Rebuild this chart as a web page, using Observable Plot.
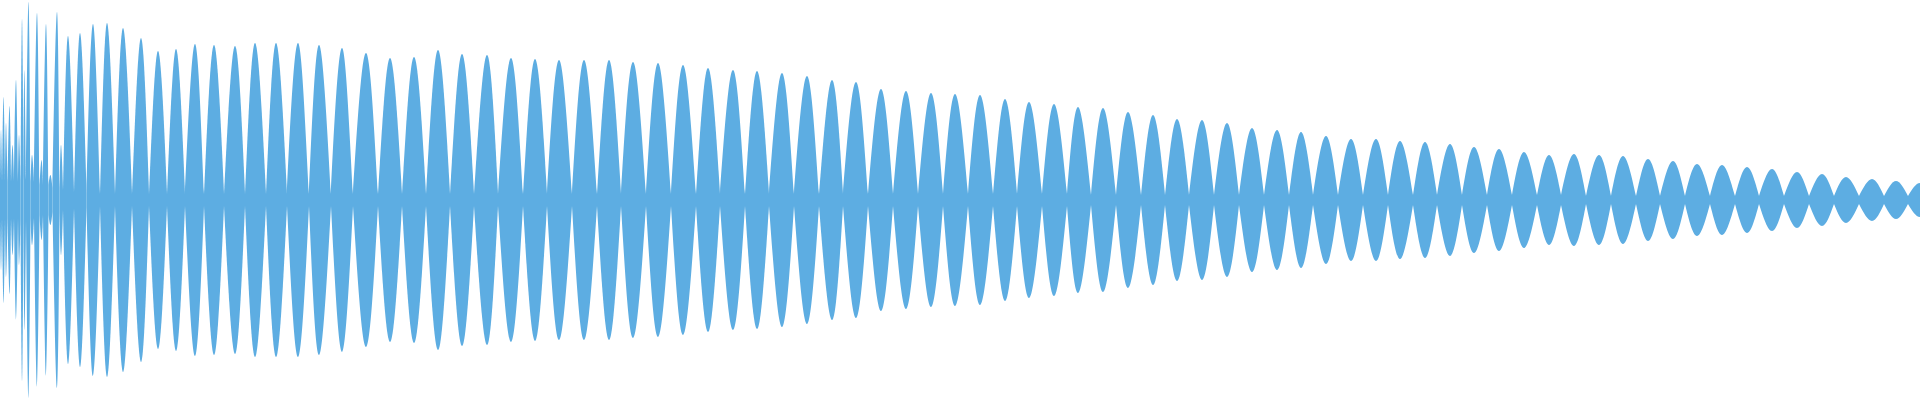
<!DOCTYPE html>
<html><head><meta charset="utf-8">
<script src="https://cdn.jsdelivr.net/npm/d3@7"></script>
<script src="https://cdn.jsdelivr.net/npm/@observablehq/plot@0.6"></script>
<style>body{margin:0;background:#fff}</style>
</head><body><div id="chart"></div>
<script>
// Envelope of the waveform: each lobe runs from one node to the next, peaking in between.
const nodeX = [0, 2, 5, 7.5, 11, 14, 18, 20.5, 23.5, 26, 30.5, 34, 39.5, 43, 48.5, 52.5, 59.5, 63, 74, 86.5, 100, 115, 132,
  149, 167, 185, 204, 224, 245, 266, 287, 309, 331, 353, 378, 402, 426, 450, 474, 498, 523, 547, 572,
  597, 621, 646, 671, 696, 720, 745, 769, 794, 819, 843, 868, 893, 918, 943, 968, 993, 1017, 1042, 1067,
  1091, 1116, 1141, 1165, 1189, 1214, 1239, 1264, 1289, 1313, 1338, 1363, 1388, 1413, 1437, 1462, 1487, 1512, 1537, 1561,
  1586, 1611, 1636, 1660, 1685, 1710, 1735, 1759, 1784, 1809, 1834, 1859, 1884, 1908, 1933];
const nodeAmp = [20, 18, 18, 18, 18, 18, 18, 20, 20, 20, 18, 18, 15, 15, 15, 12, 12, 10, 8, 7, 6, 6, 6,
  6, 6, 6, 6, 6, 6, 6, 6, 6, 6, 6, 6, 6, 6, 6, 6, 6, 6, 6, 6,
  6, 6, 6, 6, 6, 6, 6, 6, 6, 6, 6, 6, 6, 6, 6, 6, 6, 6, 6, 6,
  5, 5, 5, 5, 5, 5, 5, 5, 5, 5, 5, 5, 5, 5, 5, 5, 5, 5, 5, 5,
  4, 4, 4, 4, 4, 4, 4, 4, 4, 4, 4, 4, 4, 4, 4];
const peakX = [1, 3.5, 6, 9.5, 12.5, 16, 19, 22, 24.5, 28.5, 32, 37, 41.5, 46, 50.5, 57, 61, 68, 80, 93, 107, 123,
  141, 158, 176, 195, 214, 235, 255, 276, 298, 319, 342, 366, 390, 414, 438, 462, 487, 511, 535, 559,
  584, 609, 633, 658, 683, 708, 733, 757, 782, 807, 832, 856, 881, 906, 931, 955, 980, 1005, 1029, 1054,
  1078, 1103, 1128, 1153, 1177, 1202, 1227, 1252, 1277, 1301, 1326, 1351, 1376, 1400, 1425, 1450, 1474, 1499, 1524, 1549,
  1574, 1599, 1623, 1648, 1673, 1697, 1722, 1747, 1772, 1797, 1822, 1846, 1872, 1896, 1920];
const peakAmp = [70, 103, 77, 94, 55, 120, 65, 181, 130, 198, 45, 187, 40, 176, 25, 188, 55, 164, 167, 176, 177, 172,
  162, 149, 151, 156, 155, 154, 157, 157, 157, 155, 152, 147, 142, 143, 150, 146, 145, 142, 141, 140,
  140, 140, 138, 137, 135, 132, 130, 129, 127, 124, 120, 118, 111, 109, 107, 106, 105, 101, 98, 96,
  93, 92, 88, 85, 81, 80, 77, 72, 70, 68, 64, 61, 61, 59, 58, 56, 53, 51, 48, 45,
  46, 45, 44, 41, 39, 36, 35, 33, 31, 28, 26, 23, 21, 19, 17];

const rows = [];
peakX.forEach((px, i) => {
  rows.push({lobe: i, x: nodeX[i], a: nodeAmp[i]});
  rows.push({lobe: i, x: px, a: peakAmp[i]});
  rows.push({lobe: i, x: nodeX[i + 1], a: nodeAmp[i + 1]});
});

const chart = Plot.plot({
  width: 1920,
  height: 400,
  margin: 0,
  x: {domain: [0, 1920], axis: null},
  y: {domain: [-200, 200], axis: null},
  marks: [
    Plot.areaY(rows, {x: "x", y1: d => -d.a, y2: d => d.a, z: "lobe", fill: "#5dade2", curve: "natural", clip: true})
  ]
});
document.getElementById("chart").append(chart);
</script>
</body></html>
